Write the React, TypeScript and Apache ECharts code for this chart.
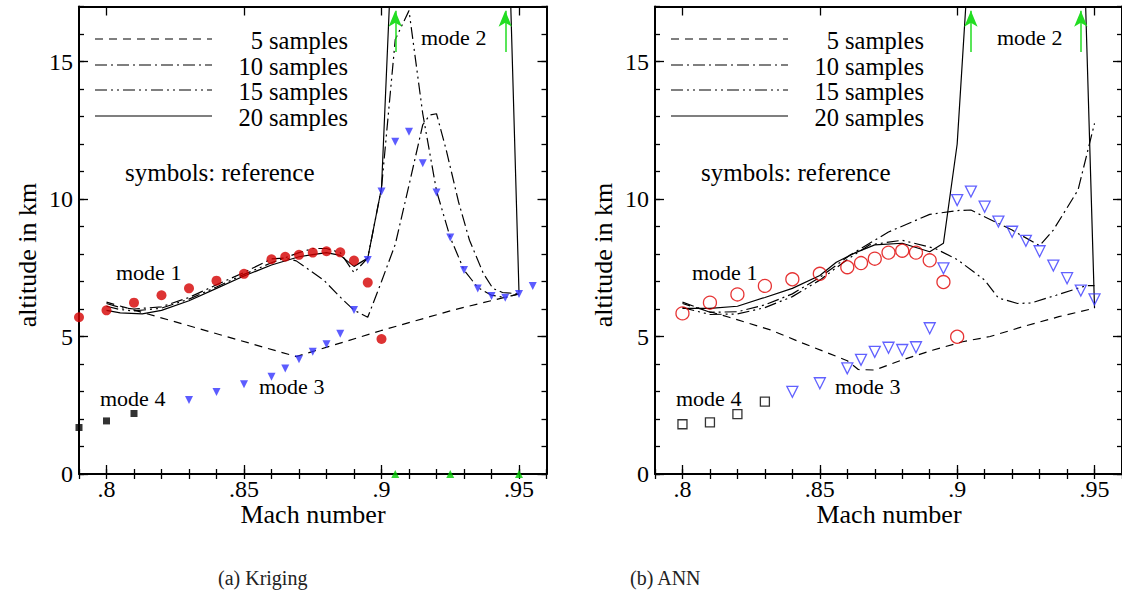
import React, { useEffect, useRef } from "react";
import * as echarts from "echarts";

// Axis ticks (Mach number, altitude in km)
const MACH_MIN = 0.79;
const MACH_MAX = 0.96;
const MACH_MAJOR = [0.8, 0.85, 0.9, 0.95];
const MACH_MINOR = [0.79, 0.8, 0.81, 0.82, 0.83, 0.84, 0.85, 0.86, 0.87, 0.88, 0.89, 0.9, 0.91, 0.92, 0.93, 0.94, 0.95, 0.96];
const ALT_MIN = 0;
const ALT_MAX = 17;
const ALT_MAJOR = [0, 5, 10, 15];
const ALT_MINOR = [0, 1, 2, 3, 4, 5, 6, 7, 8, 9, 10, 11, 12, 13, 14, 15, 16, 17];

// (a) Kriging — reference optima (symbols)
const krigMode1 = [[0.79, 5.7], [0.8, 5.95], [0.81, 6.23], [0.82, 6.5], [0.83, 6.75], [0.84, 7.03], [0.85, 7.28], [0.86, 7.81], [0.865, 7.9], [0.87, 7.97], [0.875, 8.05], [0.88, 8.1], [0.885, 8.06], [0.89, 7.76], [0.895, 6.96], [0.9, 4.91]];
const krigMode3 = [[0.83, 2.69], [0.84, 2.98], [0.85, 3.26], [0.86, 3.54], [0.865, 3.84], [0.87, 4.17], [0.875, 4.45], [0.88, 4.72], [0.885, 5.1], [0.89, 5.96], [0.895, 7.78], [0.9, 10.27], [0.905, 12.08], [0.91, 12.45], [0.915, 11.3], [0.92, 10.24], [0.925, 8.6], [0.93, 7.42], [0.935, 6.75], [0.94, 6.47], [0.945, 6.41], [0.95, 6.55], [0.955, 6.84]];
const krigMode4 = [[0.79, 1.69], [0.8, 1.93], [0.81, 2.2]];
const krigMode2Ground = [[0.905, 0], [0.925, 0], [0.95, 0]];
const krigMode2Arrows = [0.905, 0.945];

// (a) Kriging — surrogate optima
const krig5 = [[0.8, 6.25], [0.869, 4.27], [0.9, 5.22], [0.926, 5.96], [0.95, 6.55]];
const krig10 = [[0.8, 6.2], [0.805, 6.05], [0.81, 6.0], [0.82, 6.08], [0.83, 6.42], [0.84, 6.88], [0.85, 7.33], [0.86, 7.82], [0.865, 7.85], [0.869, 7.75], [0.879, 7.05], [0.886, 6.33], [0.89, 5.96], [0.895, 5.7], [0.9, 7.0], [0.905, 8.35], [0.91, 10.5], [0.915, 12.7], [0.9175, 13.05], [0.92, 13.1], [0.9235, 11.8], [0.928, 9.9], [0.932, 8.5], [0.937, 7.3], [0.9405, 6.75], [0.944, 6.6], [0.95, 6.55]];
const krig15 = [[0.8, 6.1], [0.805, 5.98], [0.81, 5.93], [0.82, 6.03], [0.83, 6.36], [0.84, 6.8], [0.85, 7.26], [0.86, 7.68], [0.87, 8.05], [0.875, 8.2], [0.88, 8.2], [0.885, 8.05], [0.89, 7.32], [0.895, 7.85], [0.9, 10.4], [0.905, 15.8], [0.91, 16.85], [0.915, 13.1], [0.92, 10.3], [0.925, 8.6], [0.93, 7.42], [0.935, 6.78], [0.94, 6.5], [0.945, 6.42], [0.95, 6.55]];
const krig20 = [[0.8, 5.95], [0.805, 5.86], [0.813, 5.82], [0.82, 5.95], [0.83, 6.3], [0.84, 6.75], [0.85, 7.2], [0.86, 7.6], [0.87, 7.9], [0.875, 7.98], [0.88, 8.05], [0.885, 7.95], [0.89, 7.55], [0.895, 7.85], [0.9, 10.4], [0.905, 22], [0.945, 24], [0.95, 6.6]];

// (b) ANN — reference optima (symbols)
const annMode1 = [[0.8, 5.84], [0.81, 6.23], [0.82, 6.53], [0.83, 6.84], [0.84, 7.08], [0.85, 7.28], [0.86, 7.52], [0.865, 7.67], [0.87, 7.83], [0.875, 8.05], [0.88, 8.12], [0.885, 8.05], [0.89, 7.77], [0.895, 6.98], [0.9, 4.99]];
const annMode3 = [[0.84, 2.99], [0.85, 3.3], [0.86, 3.84], [0.865, 4.15], [0.87, 4.44], [0.875, 4.59], [0.88, 4.51], [0.885, 4.61], [0.89, 5.3], [0.895, 7.48], [0.9, 9.96], [0.905, 10.27], [0.91, 9.72], [0.915, 9.18], [0.92, 8.81], [0.925, 8.48], [0.93, 8.1], [0.935, 7.58], [0.94, 7.12], [0.945, 6.67], [0.95, 6.35]];
const annMode4 = [[0.8, 1.81], [0.81, 1.88], [0.82, 2.18], [0.83, 2.63]];
const annMode2Arrows = [0.905, 0.945];

// (b) ANN — surrogate optima
const ann5 = [[0.8, 6.2], [0.81, 5.9], [0.817, 5.7], [0.832, 5.24], [0.844, 4.75], [0.86, 4.12], [0.864, 3.8], [0.87, 3.78], [0.88, 4.15], [0.891, 4.5], [0.902, 4.81], [0.912, 5.0], [0.924, 5.36], [0.937, 5.72], [0.95, 6.03]];
const ann10 = [[0.8, 6.25], [0.81, 5.88], [0.82, 5.9], [0.83, 6.15], [0.84, 6.55], [0.85, 7.15], [0.861, 7.96], [0.875, 8.8], [0.89, 9.44], [0.9, 9.58], [0.905, 9.6], [0.908, 9.45], [0.92, 8.87], [0.93, 8.3], [0.935, 8.87], [0.944, 10.33], [0.95, 12.75]];
const ann15 = [[0.8, 6.05], [0.81, 5.8], [0.82, 5.82], [0.83, 6.05], [0.84, 6.45], [0.85, 7.05], [0.86, 7.8], [0.868, 8.33], [0.88, 8.5], [0.892, 8.2], [0.9, 7.8], [0.91, 7.05], [0.915, 6.4], [0.922, 6.2], [0.927, 6.22], [0.936, 6.5], [0.947, 6.85], [0.95, 6.85]];
const ann20 = [[0.8, 6.02], [0.81, 6.02], [0.82, 6.1], [0.83, 6.42], [0.84, 6.75], [0.85, 7.22], [0.856, 7.7], [0.863, 8.05], [0.87, 8.33], [0.88, 8.39], [0.89, 8.08], [0.895, 8.39], [0.9, 12.0], [0.905, 20], [0.945, 23], [0.95, 6.03]];

const LEGEND_LABELS = ["5 samples", "10 samples", "15 samples", "20 samples"];
const PANEL_CAPTIONS = ["(a) Kriging", "(b) ANN"];

const FONT = '"Liberation Serif", "Times New Roman", Times, serif';
const DASHES: (number[] | "solid")[] = [[8, 6], [12, 4, 2, 4], [12, 4, 2, 4, 2, 4], "solid"];

const GRID_LEFT = [79, 655];
const GRID_TOP = 6.5;
const GRID_W = 467.5;
const GRID_H = 467.5;

const fmtMach = (v: number) => String(Number(v.toFixed(3))).replace(/^0/, "");

function axesForGrid(g: number) {
  const axisLine = { show: true, onZero: false, lineStyle: { color: "#000", width: 2 } };
  const tickStyle = { color: "#000", width: 1.3 };
  const xs = [
    {
      position: "bottom", axisLine,
      axisTick: { show: true, inside: true, length: 9, customValues: MACH_MAJOR, lineStyle: tickStyle },
      axisLabel: { show: true, customValues: MACH_MAJOR, formatter: fmtMach, color: "#000", fontSize: 24, fontFamily: FONT, margin: 3 },
    },
    {
      position: "bottom", axisLine: { show: false },
      axisTick: { show: true, inside: true, length: 5, customValues: MACH_MINOR, lineStyle: tickStyle },
      axisLabel: { show: false },
    },
    {
      position: "top", axisLine,
      axisTick: { show: true, inside: true, length: 9, customValues: MACH_MAJOR, lineStyle: tickStyle },
      axisLabel: { show: false },
    },
    {
      position: "top", axisLine: { show: false },
      axisTick: { show: true, inside: true, length: 5, customValues: MACH_MINOR, lineStyle: tickStyle },
      axisLabel: { show: false },
    },
  ].map((a) => ({ ...a, gridIndex: g, type: "value", min: MACH_MIN, max: MACH_MAX, splitLine: { show: false } }));
  const ys = [
    {
      position: "left", axisLine,
      axisTick: { show: true, inside: true, length: 9, customValues: ALT_MAJOR, lineStyle: tickStyle },
      axisLabel: { show: true, customValues: ALT_MAJOR, color: "#000", fontSize: 24, fontFamily: FONT, margin: 6 },
    },
    {
      position: "left", axisLine: { show: false },
      axisTick: { show: true, inside: true, length: 5, customValues: ALT_MINOR, lineStyle: tickStyle },
      axisLabel: { show: false },
    },
    {
      position: "right", axisLine,
      axisTick: { show: true, inside: true, length: 9, customValues: ALT_MAJOR, lineStyle: tickStyle },
      axisLabel: { show: false },
    },
    {
      position: "right", axisLine: { show: false },
      axisTick: { show: true, inside: true, length: 5, customValues: ALT_MINOR, lineStyle: tickStyle },
      axisLabel: { show: false },
    },
  ].map((a) => ({ ...a, gridIndex: g, type: "value", min: ALT_MIN, max: ALT_MAX, splitLine: { show: false } }));
  return { xs, ys };
}

function curve(name: string, data: number[][], idx: number, g: number) {
  return {
    type: "line", name, data, xAxisIndex: g * 4, yAxisIndex: g * 4,
    symbol: "none", showSymbol: false, clip: true, silent: true, z: 3,
    lineStyle: { color: "#000", width: 1.2, type: DASHES[idx] },
  };
}

function marks(name: string, data: number[][], g: number, symbol: string, size: number, color: string, hollow: boolean, rotate = 0) {
  return {
    type: "scatter", name, data, xAxisIndex: g * 4, yAxisIndex: g * 4,
    symbol, symbolSize: size, symbolRotate: rotate, silent: true, z: 4, clip: false,
    itemStyle: hollow
      ? { color: "rgba(0,0,0,0)", borderColor: color, borderWidth: 1.3 }
      : { color },
  };
}

function arrows(xs: number[], g: number) {
  return {
    type: "scatter", name: "mode 2 arrows", data: [], xAxisIndex: g * 4, yAxisIndex: g * 4, silent: true,
    markLine: {
      silent: true, animation: false,
      symbol: ["none", "arrow"], symbolSize: [10, 16],
      label: { show: false },
      lineStyle: { color: "#22dd22", width: 1.5, type: "solid" },
      data: xs.map((x) => [{ coord: [x, 15.35] }, { coord: [x, 16.85] }]),
    },
  };
}

function textEl(text: string, x: number, y: number, size: number, align = "left", extra: any = {}) {
  return {
    type: "text", x, y, silent: true, ...extra,
    style: { text, x: 0, y: 0, align, verticalAlign: "middle", fontSize: size, lineHeight: size, fontFamily: FONT, fill: "#000" },
  };
}

function panelGraphics(g: number) {
  const dx = GRID_LEFT[g] - GRID_LEFT[0];
  const rows = [39, 65, 90, 116];
  const els: any[] = [];
  rows.forEach((y, i) => {
    els.push({
      type: "line", silent: true,
      shape: { x1: 95 + dx, y1: y, x2: 212 + dx, y2: y },
      style: { stroke: "#000", lineWidth: 1.2, lineDash: DASHES[i] === "solid" ? null : DASHES[i] },
    });
    els.push(textEl(LEGEND_LABELS[i], 348 + dx, y + 1, 24.5, "right"));
  });
  els.push(textEl("symbols: reference", 125 + dx, 172, 25));
  els.push(textEl("mode 1", 116 + dx, 272, 22));
  els.push(textEl("mode 2", 421 + dx, 37, 22));
  els.push(textEl("mode 3", 259 + dx, 386, 22));
  els.push(textEl("mode 4", 100 + dx, 398, 22));
  els.push(textEl("altitude in km", 27 + dx, 255, 26, "center", { rotation: Math.PI / 2 }));
  els.push(textEl("Mach number", 313 + dx, 514, 26, "center"));
  return els;
}

export default function App() {
  const ref = useRef<HTMLDivElement>(null);
  useEffect(() => {
    document.body.style.margin = "0";
    if (!ref.current) return;
    const chart = echarts.init(ref.current, null, { renderer: "svg" });
    const a0 = axesForGrid(0);
    const a1 = axesForGrid(1);
    const series: any[] = [
      curve("5 samples", krig5, 0, 0),
      curve("10 samples", krig10, 1, 0),
      curve("15 samples", krig15, 2, 0),
      curve("20 samples", krig20, 3, 0),
      marks("mode 1", krigMode1, 0, "circle", 10, "#d40000", false),
      marks("mode 3", krigMode3, 0, "triangle", 8, "#3333ff", false, 180),
      marks("mode 4", krigMode4, 0, "rect", 7, "#000", false),
      marks("mode 2", krigMode2Ground, 0, "triangle", 8, "#00cc00", false),
      arrows(krigMode2Arrows, 0),
      curve("5 samples", ann5, 0, 1),
      curve("10 samples", ann10, 1, 1),
      curve("15 samples", ann15, 2, 1),
      curve("20 samples", ann20, 3, 1),
      marks("mode 1", annMode1, 1, "circle", 13, "#e00000", true),
      marks("mode 3", annMode3, 1, "triangle", 11, "#3a3aff", true, 180),
      marks("mode 4", annMode4, 1, "rect", 9, "#000", true),
      arrows(annMode2Arrows, 1),
    ];
    chart.setOption({
      animation: false,
      backgroundColor: "#fff",
      grid: GRID_LEFT.map((left) => ({ left, top: GRID_TOP, width: GRID_W, height: GRID_H })),
      xAxis: [...a0.xs, ...a1.xs],
      yAxis: [...a0.ys, ...a1.ys],
      series,
      graphic: [
        ...panelGraphics(0),
        ...panelGraphics(1),
        {
          type: "text", x: 218, y: 578, silent: true,
          style: { text: PANEL_CAPTIONS[0], x: 0, y: 0, verticalAlign: "middle", fontSize: 20, fontFamily: FONT, fill: "#222" },
        },
        {
          type: "text", x: 630, y: 578, silent: true,
          style: { text: PANEL_CAPTIONS[1], x: 0, y: 0, verticalAlign: "middle", fontSize: 20, fontFamily: FONT, fill: "#222" },
        },
      ],
    });
    return () => chart.dispose();
  }, []);
  return <div ref={ref} style={{ width: 1122, height: 598 }} />;
}
